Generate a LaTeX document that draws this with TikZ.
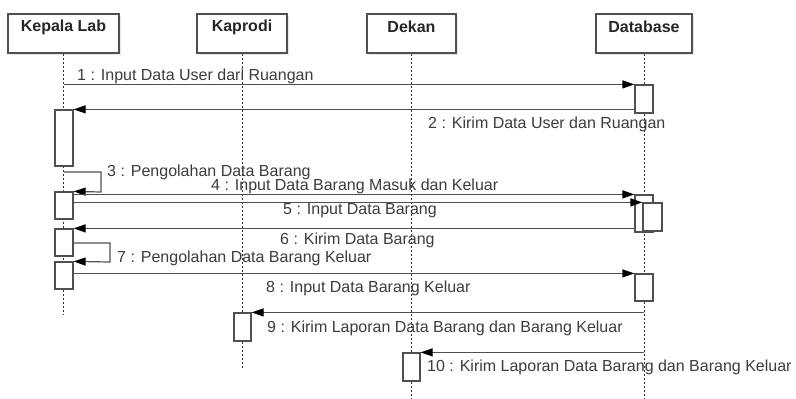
\documentclass[tikz,border=0pt]{standalone}
\usepackage{fontspec}
\setmainfont{Liberation Sans}
\usetikzlibrary{arrows.meta,shadows,calc}
\definecolor{ink}{HTML}{505050}
\definecolor{txt}{HTML}{3C3C3C}
\begin{document}
\begin{tikzpicture}[x=1pt,y=1pt,
  hdr/.style={draw=ink, line width=1.2pt, fill=white, minimum height=39pt, inner sep=0pt,
    drop shadow={shadow xshift=2pt, shadow yshift=-2pt, opacity=0.2}},
  hdrtext/.style={font=\fontsize{16}{18}\selectfont\bfseries, text=black!85, inner sep=0pt},
  act/.style={draw=ink, line width=1.2pt, fill=white, inner sep=0pt, minimum width=18pt},
  life/.style={draw=black!80, line width=1pt, dash pattern=on 2pt off 2pt},
  msg/.style={draw=ink, line width=1.2pt, -{Triangle[length=12pt,width=8pt,black]}},
  lbl/.style={font=\fontsize{16}{18}\selectfont, text=txt, anchor=west, inner sep=0pt}]
\useasboundingbox (0,0) rectangle (796,-399);

% participants
\node[hdr, minimum width=111pt] (kl) at (63.5,-33.5) {};
\node[hdr, minimum width=90pt]  (kp) at (242,-33.5) {};
\node[hdr, minimum width=89pt]  (dk) at (411.5,-33.5) {};
\node[hdr, minimum width=96pt]  (db) at (644,-33.5) {};
\node[hdrtext] (kltx) at (63.5,-27) {Kepala Lab};
\node[hdrtext] (kptx) at (242,-27) {Kaprodi};
\node[hdrtext] (dktx) at (411.5,-27) {Dekan};
\node[hdrtext] (dbtx) at (644,-27) {Database};

% lifelines
\coordinate (klend) at (kl.south |- 0,-315);
\coordinate (kpend) at (kp.south |- 0,-368);
\coordinate (dkend) at (dk.south |- 0,-398);
\coordinate (dbend) at (db.south |- 0,-398);
\draw[life] (kl.south) -- (klend);
\draw[life] (kp.south) -- (kpend);
\draw[life] (dk.south) -- (dkend);
\draw[life] (db.south) -- (dbend);

% activations
\node[act, minimum height=56pt] (ka1) at (64,-138) {};
\node[act, minimum height=27pt] (ka2) at (64,-205.5) {};
\node[act, minimum height=27pt] (ka3) at (64,-242.5) {};
\node[act, minimum height=27pt] (ka4) at (64,-275.5) {};
\node[act, minimum height=28pt] (db1) at (644,-99) {};
\node[act, minimum height=37pt] (db2) at (644,-213.5) {};
\node[act, minimum height=28pt, minimum width=19pt] (db3) at (652.5,-217) {};
\node[act, minimum height=27pt] (db4) at (644,-287.5) {};
\node[act, minimum height=28pt, minimum width=17pt] (kp1) at (242.5,-327) {};
\node[act, minimum height=28pt, minimum width=17pt] (dk1) at (411.5,-367) {};

% messages
\draw[msg] (kl.south |- db1.north west) -- (db1.north west);
\node[lbl] (l1) at (77,-76) {1 : Input Data User dari Ruangan};

\draw[msg] (db1.west |- ka1.north east) -- (ka1.north east);
\node[lbl] (l2) at (428,-124) {2 : Kirim Data User dan Ruangan};

\coordinate (s3a) at (101,-172);
\coordinate (s3b) at (101,-192);
\draw[msg] (kl.south |- s3a) -- (s3a) -- (s3b) -- (ka2.north east);
\node[lbl] (l3) at (107,-172) {3 : Pengolahan Data Barang};

\draw[msg] (ka2.east |- db2.north west) -- (db2.north west);
\node[lbl] (l4) at (211,-186) {4 : Input Data Barang Masuk dan Keluar};

\draw[msg] (ka2.east |- db3.north west) -- (db3.north west);
\node[lbl] (l5) at (283,-211) {5 : Input Data Barang};

\draw[msg] (db2.west |- ka3.north east) -- (ka3.north east);
\node[lbl] (l6) at (280,-240) {6 : Kirim Data Barang};

\coordinate (s7a) at (110,-243);
\coordinate (s7b) at (110,-262);
\draw[msg] (ka3.east |- s7a) -- (s7a) -- (s7b) -- (ka4.north east);
\node[lbl] (l7) at (117,-258) {7 : Pengolahan Data Barang Keluar};

\draw[msg] (ka4.east |- db4.north west) -- (db4.north west);
\node[lbl] (l8) at (266,-288) {8 : Input Data Barang Keluar};

\draw[msg] (db.south |- kp1.north east) -- (kp1.north east);
\node[lbl] (l9) at (267,-328) {9 : Kirim Laporan Data Barang dan Barang Keluar};

\draw[msg] (db.south |- dk1.north east) -- (dk1.north east);
\node[lbl] (l10) at (427,-367) {10 : Kirim Laporan Data Barang dan Barang Keluar};
\end{tikzpicture}
\end{document}
